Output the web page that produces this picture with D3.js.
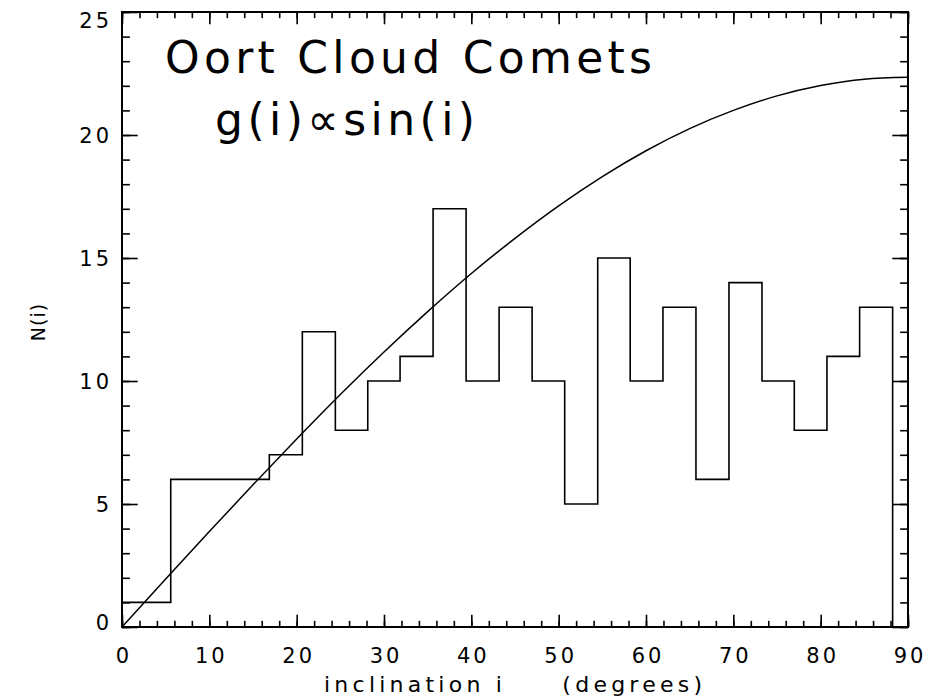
<!DOCTYPE html>
<html>
<head>
<meta charset="utf-8">
<script src="https://cdn.jsdelivr.net/npm/d3@7"></script>
<style>
  body { margin: 0; background: #fff; }
  svg { display: block; }
  text { font-family: "DejaVu Sans", sans-serif; fill: #000; }
</style>
</head>
<body>
<div id="chart"></div>
<script>
// histogram step edges (degrees) and counts per step
const binEdges = [0, 5.58, 16.87, 20.65, 24.43, 28.14, 31.84, 35.62, 39.40, 43.18, 46.96,
                  50.69, 54.47, 58.19, 61.94, 65.72, 69.50, 73.28, 76.98, 80.72, 84.46, 88.24];
const counts = [1, 6, 7, 12, 8, 10, 11, 17, 10, 13, 10, 5, 15, 10, 13, 6, 14, 10, 8, 11, 13];

// g(i) ~ sin(i) model curve, every 5 degrees
const modelI = [0, 5, 10, 15, 20, 25, 30, 35, 40, 45, 50, 55, 60, 65, 70, 75, 80, 85, 90];
const modelN = [0, 1.95, 3.88, 5.78, 7.64, 9.45, 11.18, 12.82, 14.37, 15.8, 17.12, 18.31,
                19.36, 20.26, 21.0, 21.59, 22.01, 22.27, 22.35];

const xTicks = [0, 10, 20, 30, 40, 50, 60, 70, 80, 90];
const yTicks = [0, 5, 10, 15, 20, 25];
const xMinor = d3.range(0, 91, 2);
const yMinor = d3.range(0, 26, 1);

const width = 943, height = 700;
const margin = {left: 122, right: 35, top: 12, bottom: 73};

const svg = d3.select("#chart").append("svg")
    .attr("width", width)
    .attr("height", height);

const x = d3.scaleLinear().domain([0, 90]).range([margin.left, width - margin.right]);
const y = d3.scaleLinear().domain([0, 25]).range([height - margin.bottom, margin.top]);

const plotW = x(90) - x(0), plotH = y(0) - y(25);
const xTickLen = 0.02 * plotH, yTickLen = 0.02 * plotW;
const labelSpacing = 3;

function styleAxis(g) {
    g.select(".domain").remove();
    g.selectAll("line").attr("stroke", "#000").attr("stroke-width", 1.6);
}

// bottom axis
svg.append("g").attr("transform", `translate(0,${y(0)})`)
    .call(d3.axisBottom(x).tickValues(xMinor).tickSize(-xTickLen / 2).tickFormat(""))
    .call(styleAxis);
const bottom = svg.append("g").attr("transform", `translate(0,${y(0)})`)
    .call(d3.axisBottom(x).tickValues(xTicks).tickSize(-xTickLen).tickPadding(21).tickFormat(d3.format("d")))
    .call(styleAxis);
bottom.selectAll("text").style("font-size", "21px")
    .style("letter-spacing", labelSpacing + "px")
    .attr("dx", labelSpacing / 2);

// top axis
svg.append("g").attr("transform", `translate(0,${y(25)})`)
    .call(d3.axisTop(x).tickValues(xMinor).tickSize(-xTickLen / 2).tickFormat(""))
    .call(styleAxis);
svg.append("g").attr("transform", `translate(0,${y(25)})`)
    .call(d3.axisTop(x).tickValues(xTicks).tickSize(-xTickLen).tickFormat(""))
    .call(styleAxis);

// left axis
svg.append("g").attr("transform", `translate(${x(0)},0)`)
    .call(d3.axisLeft(y).tickValues(yMinor).tickSize(-yTickLen / 2).tickFormat(""))
    .call(styleAxis);
const left = svg.append("g").attr("transform", `translate(${x(0)},0)`)
    .call(d3.axisLeft(y).tickValues(yTicks).tickSize(-yTickLen).tickPadding(13 - labelSpacing).tickFormat(d3.format("d")))
    .call(styleAxis);
left.selectAll("text").style("font-size", "21px")
    .style("letter-spacing", labelSpacing + "px")
    .attr("dy", d => d === 25 ? "0.72em" : d === 0 ? "0.1em" : "0.35em");

// right axis
svg.append("g").attr("transform", `translate(${x(90)},0)`)
    .call(d3.axisRight(y).tickValues(yMinor).tickSize(-yTickLen / 2).tickFormat(""))
    .call(styleAxis);
svg.append("g").attr("transform", `translate(${x(90)},0)`)
    .call(d3.axisRight(y).tickValues(yTicks).tickSize(-yTickLen).tickFormat(""))
    .call(styleAxis);

// frame
svg.append("rect")
    .attr("x", x(0)).attr("y", y(25))
    .attr("width", plotW).attr("height", plotH)
    .attr("fill", "none").attr("stroke", "#000").attr("stroke-width", 2);

// histogram
const stepPts = counts.map((c, k) => [binEdges[k], c]);
stepPts.push([binEdges[binEdges.length - 1], 0]);
svg.append("path")
    .datum(stepPts)
    .attr("fill", "none")
    .attr("stroke", "#000")
    .attr("stroke-width", 1.6)
    .attr("d", d3.line().x(d => x(d[0])).y(d => y(d[1])).curve(d3.curveStepAfter));

// model curve
svg.append("path")
    .datum(modelI.map((v, k) => [v, modelN[k]]))
    .attr("fill", "none")
    .attr("stroke", "#000")
    .attr("stroke-width", 1.5)
    .attr("d", d3.line().x(d => x(d[0])).y(d => y(d[1])).curve(d3.curveNatural));

// labels
svg.append("text")
    .attr("x", 165).attr("y", 73)
    .attr("textLength", 487).attr("lengthAdjust", "spacing")
    .style("font-size", "44px")
    .text("Oort Cloud Comets");
svg.append("text")
    .attr("x", 215).attr("y", 135)
    .attr("textLength", 260).attr("lengthAdjust", "spacing")
    .style("font-size", "44px")
    .text("g(i)\u221Dsin(i)");

svg.append("text")
    .attr("x", 324).attr("y", 692)
    .style("font-size", "22px")
    .style("white-space", "pre")
    .attr("textLength", 378).attr("lengthAdjust", "spacing")
    .text("inclination i     (degrees)");

svg.append("text")
    .attr("transform", `translate(45,322) rotate(-90)`)
    .attr("text-anchor", "middle")
    .style("font-size", "19px")
    .style("letter-spacing", "1px")
    .text("N(i)");
</script>
</body>
</html>
